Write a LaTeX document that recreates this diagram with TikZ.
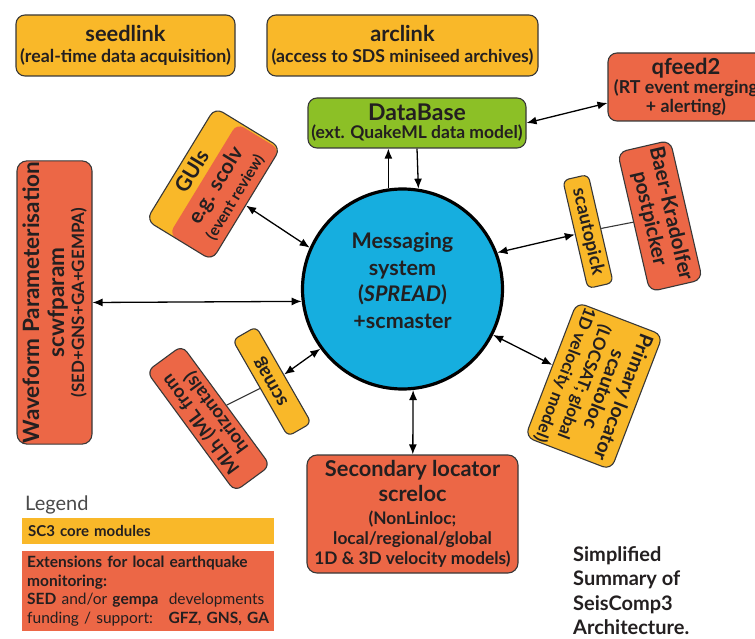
\documentclass[tikz,border=0pt]{standalone}
\usepackage{fontspec}
\setmainfont{Lato}
\usetikzlibrary{arrows.meta,calc}
\definecolor{cYel}{HTML}{F9B829}
\definecolor{cRed}{HTML}{EC6746}
\definecolor{cGreen}{HTML}{8CC026}
\definecolor{cCyan}{HTML}{16AEDF}
\definecolor{cBorder}{HTML}{383838}
\definecolor{cText}{HTML}{231F20}
\definecolor{cGrey}{HTML}{4A4A4A}
\newcommand\setfs[2]{\fontsize{#1}{#2}\selectfont}
\begin{document}
\begin{tikzpicture}[x=1pt,y=-1pt,
  >={Latex[length=10pt,width=8pt]},
  box/.style={draw=cBorder, line width=1.1pt, rounded corners=9pt, inner sep=1pt, align=center, text=cText},
  ybox/.style={box, fill=cYel},
  rbox/.style={box, fill=cRed},
  arr/.style={line width=1.3pt, draw=black, <->},
  oneway/.style={line width=1.3pt, draw=black, ->},
  conn/.style={line width=1.1pt, draw=cBorder}]
\useasboundingbox (0,0) rectangle (755,639);

% top row
\node[ybox, minimum width=219pt, minimum height=61pt, font=\bfseries\setfs{17.8}{21.5}] (seed) at (125.5,45.5) {{\setfs{21.8}{20}seedlink}\\(real-time data acquisition)};
\node[ybox, minimum width=271pt, minimum height=61pt, font=\bfseries\setfs{17.7}{21.5}] (arc) at (402.5,45.5) {{\setfs{21.8}{20}arclink}\\(access to SDS miniseed archives)};
\node[box, fill=cGreen, minimum width=218pt, minimum height=50pt, font=\bfseries\setfs{17.5}{18}] (db) at (417,123) {{\setfs{23}{20}DataBase}\\(ext. QuakeML data model)};
\node[rbox, minimum width=156pt, minimum height=68pt, font=\bfseries\setfs{17.8}{19}] (qf) at (686,87) {{\setfs{22}{20}qfeed2}\\(RT event merging\\+ alerting)};

% central circle
\node[circle, draw=black, line width=3.2pt, fill=cCyan, minimum size=200pt, inner sep=0pt] (msg) at (402.5,289) {};
\node[font=\bfseries\setfs{21.5}{26.5}, align=center, text=cText, inner sep=0pt] (msgtxt) at (402.5,280.5) {Messaging\\system\\(\textit{SPREAD})\\+scmaster};

% waveform
\node[rbox, rotate=90, minimum width=275pt, minimum height=75pt, rounded corners=10pt, font=\bfseries\setfs{17}{20}] (wf) at (54.5,302.5) {{\setfs{22.5}{22}Waveform Parameterisation}\\[5pt]{\setfs{22.5}{22}scwfparam}\\(SED+GNS+GA+GEMPA)};

% GUIs
\begin{scope}[shift={(213.5,184)}, rotate=58.6, y=1pt]
  \fill[cYel, rounded corners=9pt] (-66,-38.5) rectangle (66,38.5);
  \fill[cRed, rounded corners=8pt] (-66,-38.5) rectangle (64,11.5);
\end{scope}
\node[box, rotate=58.6, minimum width=132pt, minimum height=77pt, font=\bfseries\setfs{15.5}{21}] (gui) at (213.5,184) {{\setfs{21}{20}GUIs}\\[6pt]{\setfs{21}{20}e.g. scolv}\\(event review)};

% scmag, MLh
\node[ybox, rotate=119.8, minimum width=111pt, minimum height=27pt, rounded corners=6pt, font=\bfseries\setfs{19}{20}] (scmag) at (272,381.5) {scmag};
\node[rbox, rotate=126.3, minimum width=149pt, minimum height=44pt, rounded corners=8pt, font=\bfseries\setfs{18.5}{19}] (mlh) at (208.5,418.5) {MLh (ML from\\horizontals)};

% scautopick, Baer-Kradolfer
\node[ybox, rotate=-77, minimum width=111pt, minimum height=26pt, rounded corners=6pt, font=\bfseries\setfs{18.5}{20}] (pick) at (588,231.5) {scautopick};
\node[rbox, rotate=-77, minimum width=143pt, minimum height=54pt, font=\bfseries\setfs{20.5}{22}] (baer) at (660,216) {Baer-Kradolfer\\postpicker};

% primary locator
\node[ybox, rotate=-111, minimum width=141pt, minimum height=92pt, font=\bfseries\setfs{17}{20.5}] (prim) at (594,386) {{\setfs{19.5}{20}Primary locator}\\{\setfs{19.5}{20}scautoloc}\\(LOCSAT; global\\1D velocity model)};

% secondary locator
\node[rbox, minimum width=211pt, minimum height=118pt, rounded corners=10pt, font=\bfseries\setfs{17.3}{20}] (sec) at (412.5,514) {{\setfs{21.8}{22}Secondary locator}\\[5pt]{\setfs{21.8}{22}screloc}\\[3pt](NonLinloc;\\local/regional/global\\1D \& 3D velocity models)};

% connectors
\draw[arr] (db.east) -- ([yshift=-16pt]qf.west);
\draw[oneway] (msg.98.5) -- (db.south -| msg.98.5);
\draw[oneway] (db.south) -- (msg.81.5);
\draw[arr] (gui) -- (msg.156);
\draw[arr] (wf.south) -- (msg.187);
\draw[arr] (scmag.south) -- (msg.216);
\draw[conn] (mlh.south) -- (scmag.north);
\draw[arr] (msg.-84) -- (sec);
\draw[arr] (pick.south) -- (msg.21);
\draw[conn] (pick.north) -- (baer.south);
\draw[arr] (msg) -- (prim);

% legend
\node[anchor=west, inner sep=0pt, font=\setfs{20}{20}, text=cGrey] (legt) at (25,504.5) {Legend};
\node[fill=cYel, anchor=north west, text width=240pt, minimum height=26pt, inner xsep=6pt, inner ysep=0pt, align=left, font=\bfseries\setfs{15}{18}, text=cText] (leg1) at (22,518) {SC3 core modules};
\node[fill=cRed, anchor=north west, text width=242pt, minimum height=80pt, inner xsep=5pt, inner ysep=3pt, align=left, font=\setfs{15.5}{18.7}, text=cText] (leg2) at (22,551) {\textbf{Extensions for local earthquake}\\\textbf{monitoring:}\\\textbf{SED} and/or \textbf{gempa}\ \ developments\\funding / support:\hspace{0pt plus 1filll}\textbf{GFZ, GNS, GA}};

% title
\node[anchor=north west, inner sep=0pt, align=left, font=\bfseries\setfs{20}{24.5}, text=cText] (title) at (573,546) {Simplified\\Summary of\\SeisComp3\\Architecture.};
\end{tikzpicture}
\end{document}
